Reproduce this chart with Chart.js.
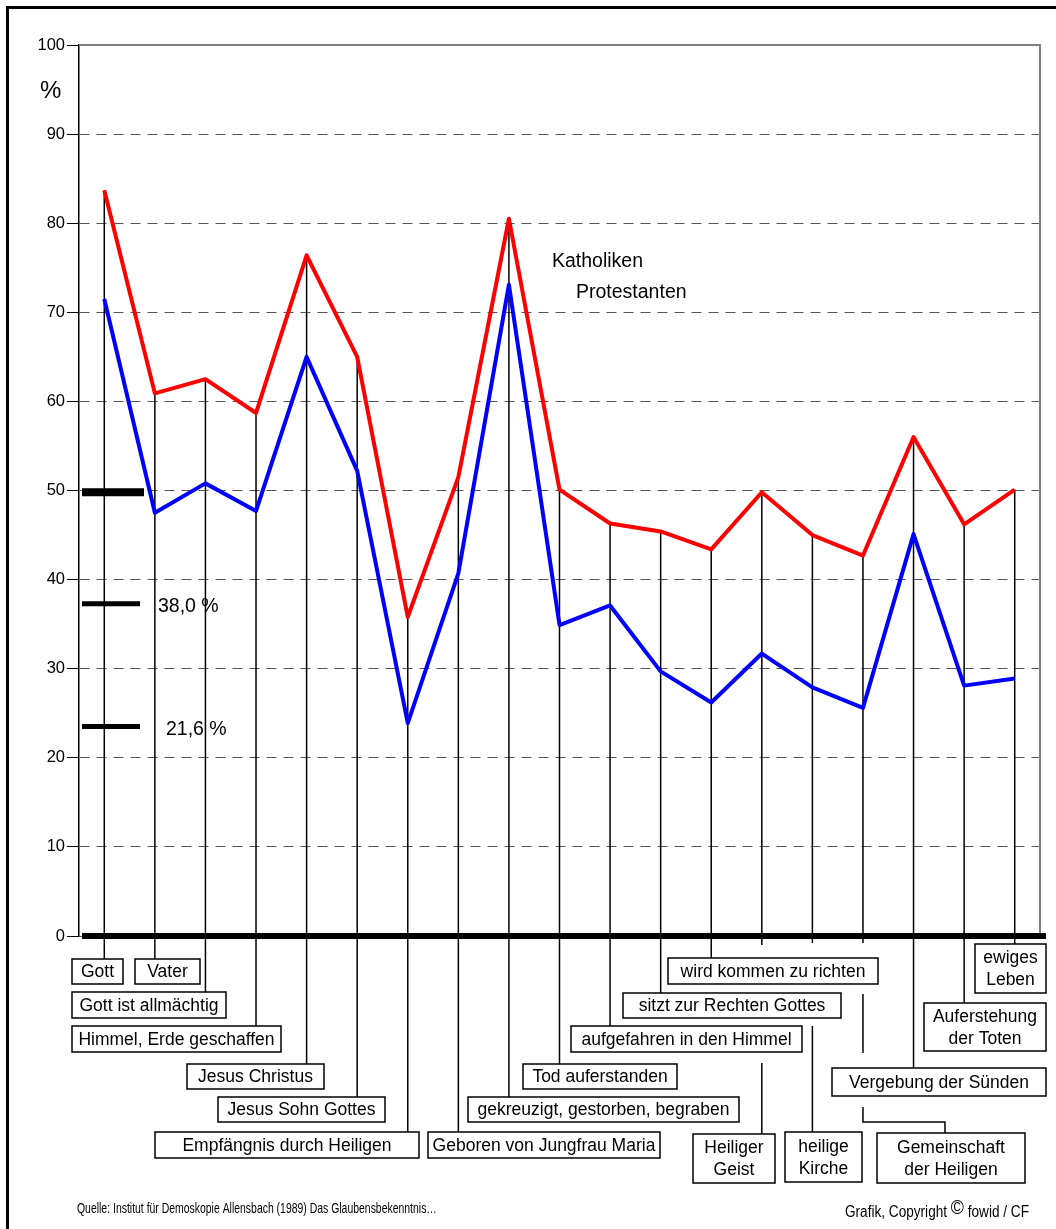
<!DOCTYPE html>
<html>
<head>
<meta charset="utf-8">
<script src="https://cdn.jsdelivr.net/npm/chart.js@4.4.1/dist/chart.umd.min.js"></script>
<style>html,body{margin:0;padding:0;background:#fff}</style>
</head>
<body>
<canvas id="myChart" width="1056" height="1229"></canvas>
<script>
// Glaubensbekenntnis: Zustimmung in % (Katholiken / Protestanten)
var categories = [
  'Gott', 'Vater', 'Gott ist allmächtig', 'Himmel, Erde geschaffen', 'Jesus Christus',
  'Jesus Sohn Gottes', 'Empfängnis durch Heiligen', 'Geboren von Jungfrau Maria',
  'gekreuzigt, gestorben, begraben', 'Tod auferstanden', 'aufgefahren in den Himmel',
  'sitzt zur Rechten Gottes', 'wird kommen zu richten', ['Heiliger', 'Geist'],
  ['heilige', 'Kirche'], ['Gemeinschaft', 'der Heiligen'], 'Vergebung der Sünden',
  ['Auferstehung', 'der Toten'], ['ewiges', 'Leben']
];
var katholiken   = [83.7, 60.9, 62.5, 58.7, 76.4, 65.0, 35.8, 51.5, 80.5, 50.1, 46.3, 45.4, 43.4, 49.8, 45.0, 42.7, 56.0, 46.2, 50.1];
var protestanten = [71.5, 47.5, 50.8, 47.7, 65.0, 52.2, 23.9, 40.7, 73.1, 34.9, 37.1, 29.7, 26.2, 31.7, 27.9, 25.6, 45.1, 28.1, 28.9];
var yTicks = [0, 10, 20, 30, 40, 50, 60, 70, 80, 90, 100];

// Markierungen links (Durchschnittswerte)
var markerValues = [49.8, 37.3, 23.5];
var markerLabels = ['', '38,0 %', '21,6 %'];

// Lage der Beschriftungskästen unter der Achse (Pixel)
var boxLayout = [
  {x: 72,  y: 959,  w: 51,  h: 25},
  {x: 135, y: 959,  w: 65,  h: 25},
  {x: 72,  y: 992,  w: 154, h: 26},
  {x: 72,  y: 1026, w: 209, h: 26},
  {x: 187, y: 1064, w: 137, h: 25},
  {x: 218, y: 1097, w: 167, h: 25},
  {x: 155, y: 1132, w: 264, h: 26},
  {x: 428, y: 1132, w: 232, h: 26},
  {x: 468, y: 1097, w: 271, h: 25},
  {x: 523, y: 1064, w: 154, h: 25},
  {x: 571, y: 1026, w: 231, h: 26},
  {x: 623, y: 993,  w: 218, h: 25},
  {x: 668, y: 958,  w: 210, h: 26},
  {x: 693, y: 1134, w: 82,  h: 49},
  {x: 785, y: 1132, w: 77,  h: 50},
  {x: 877, y: 1133, w: 148, h: 50},
  {x: 832, y: 1068, w: 214, h: 28},
  {x: 924, y: 1003, w: 122, h: 48},
  {x: 975, y: 944,  w: 71,  h: 49}
];
// Verbindungslinien, die nicht gerade bis zum Kasten gehen (x relativ zur Kategorie)
var connectorOverrides = {
  13: [[[0, 'axis'], [0, 945]], [[0, 1063], [0, 1134]]],
  14: [[[0, 'axis'], [0, 943]], [[0, 1026], [0, 1132]]],
  15: [[[0, 'axis'], [0, 943]], [[0, 994], [0, 1053]], [[0, 1107], [0, 1122], [82, 1122], [82, 1133]]]
};

var FONT = "'Liberation Sans', Arial, sans-serif";

// schmale Schrift durch horizontale Stauchung
function narrowText(ctx, text, x, y, size, sx) {
  ctx.save();
  ctx.font = size + 'px ' + FONT;
  ctx.translate(x, y);
  ctx.scale(sx, 1);
  ctx.fillText(text, 0, 0);
  var w = ctx.measureText(text).width * sx;
  ctx.restore();
  return w;
}

var glaubePlugin = {
  id: 'glaube',
  beforeDatasetsDraw: function(chart) {
    var ctx = chart.ctx, xs = chart.scales.x, ys = chart.scales.y, a = chart.chartArea;
    ctx.save();
    // grauer Rahmen oben/rechts
    ctx.strokeStyle = '#808080';
    ctx.lineWidth = 2;
    ctx.beginPath();
    ctx.moveTo(a.left, ys.getPixelForValue(100));
    ctx.lineTo(a.right, ys.getPixelForValue(100));
    ctx.lineTo(a.right, ys.getPixelForValue(0));
    ctx.stroke();
    // senkrechte Linien vom Wert bis zur Achse
    ctx.strokeStyle = '#000';
    ctx.lineWidth = 1.5;
    for (var i = 0; i < categories.length; i++) {
      var px = xs.getPixelForValue(i);
      ctx.beginPath();
      ctx.moveTo(px, ys.getPixelForValue(Math.max(katholiken[i], protestanten[i])));
      ctx.lineTo(px, ys.getPixelForValue(0));
      ctx.stroke();
    }
    ctx.restore();
  },
  afterDatasetsDraw: function(chart) {
    var ctx = chart.ctx, ys = chart.scales.y, a = chart.chartArea;
    ctx.save();
    // dicke Nulllinie
    ctx.strokeStyle = '#000';
    ctx.lineWidth = 6;
    ctx.beginPath();
    ctx.moveTo(a.left + 3, ys.getPixelForValue(0));
    ctx.lineTo(a.right + 6, ys.getPixelForValue(0));
    ctx.stroke();
    // Markierungen
    markerValues.forEach(function(v, i) {
      var py = ys.getPixelForValue(v);
      ctx.lineWidth = i === 0 ? 8 : 5;
      ctx.beginPath();
      ctx.moveTo(a.left + 3, py);
      ctx.lineTo(a.left + (i === 0 ? 65 : 61), py);
      ctx.stroke();
      if (markerLabels[i]) {
        ctx.fillStyle = '#000';
        ctx.font = '19.5px ' + FONT;
        ctx.textBaseline = 'alphabetic';
        ctx.fillText(markerLabels[i], i === 1 ? 158 : 166, py + 8);
      }
    });
    ctx.restore();
  },
  afterDraw: function(chart) {
    var ctx = chart.ctx, xs = chart.scales.x, ys = chart.scales.y;
    var axisY = ys.getPixelForValue(0);
    ctx.save();
    ctx.strokeStyle = '#000';
    ctx.lineWidth = 1.5;
    // Verbindungslinien unter der Achse
    for (var i = 0; i < categories.length; i++) {
      var cx = xs.getPixelForValue(i);
      var lines = connectorOverrides[i] || [[[0, 'axis'], [0, boxLayout[i].y]]];
      lines.forEach(function(pts) {
        ctx.beginPath();
        pts.forEach(function(p, k) {
          var py = p[1] === 'axis' ? axisY : p[1];
          if (k === 0) ctx.moveTo(cx + p[0], py); else ctx.lineTo(cx + p[0], py);
        });
        ctx.stroke();
      });
    }
    // Kästen mit Beschriftung
    ctx.font = '17.5px ' + FONT;
    ctx.textAlign = 'center';
    ctx.textBaseline = 'middle';
    categories.forEach(function(label, i) {
      var b = boxLayout[i];
      ctx.fillStyle = '#fff';
      ctx.fillRect(b.x, b.y, b.w, b.h);
      ctx.strokeRect(b.x, b.y, b.w, b.h);
      ctx.fillStyle = '#000';
      var rows = Array.isArray(label) ? label : [label];
      var lh = 22;
      var top = b.y + b.h / 2 - (rows.length - 1) * lh / 2;
      rows.forEach(function(r, k) { ctx.fillText(r, b.x + b.w / 2, top + k * lh + 1); });
    });
    // Legende im Diagramm
    ctx.textAlign = 'left';
    ctx.textBaseline = 'alphabetic';
    ctx.font = '19.5px ' + FONT;
    ctx.fillText('Katholiken', 552, 267);
    ctx.fillText('Protestanten', 576, 298);
    // Prozentzeichen
    ctx.font = '24px ' + FONT;
    ctx.fillText('%', 40, 98);
    // Quelle / Copyright
    narrowText(ctx, 'Quelle: Institut für Demoskopie Allensbach (1989) Das Glaubensbekenntnis…', 77, 1213, 14.5, 0.72);
    var gx = 845;
    gx += narrowText(ctx, 'Grafik, Copyright ', gx, 1217, 16, 0.85);
    gx += narrowText(ctx, '©', gx, 1214, 21, 0.85);
    narrowText(ctx, ' fowid / CF', gx, 1217, 16, 0.85);
    // Rahmen links/oben
    ctx.lineWidth = 3;
    ctx.beginPath();
    ctx.moveTo(7.5, 1229);
    ctx.lineTo(7.5, 7.5);
    ctx.lineTo(1056, 7.5);
    ctx.stroke();
    ctx.restore();
  }
};

var myChart;
function render() {
  var canvas = document.getElementById('myChart').getContext('2d');
  myChart = new Chart(canvas, {
    type: 'line',
    data: {
      labels: categories,
      datasets: [{
        label: 'Protestanten',
        data: protestanten,
        borderColor: '#0000ff',
        borderWidth: 4,
        borderJoinStyle: 'round',
        pointRadius: 0,
        tension: 0
      }, {
        label: 'Katholiken',
        data: katholiken,
        borderColor: '#ff0000',
        borderWidth: 4,
        borderJoinStyle: 'round',
        pointRadius: 0,
        tension: 0
      }]
    },
    options: {
      responsive: false,
      animation: false,
      devicePixelRatio: 1,
      layout: {
        padding: {top: 45, right: 16, bottom: 293, left: 0}
      },
      plugins: {
        legend: {display: false},
        tooltip: {enabled: false}
      },
      scales: {
        x: {
          display: false,
          offset: true
        },
        y: {
          min: 0,
          max: 100,
          afterFit: function(scale) { scale.width = 79; },
          afterBuildTicks: function(scale) {
            scale.ticks = yTicks.map(function(v) { return {value: v}; });
          },
          ticks: {
            color: '#000',
            padding: 2,
            font: {family: "'Liberation Sans', Arial, sans-serif", size: 16.5}
          },
          grid: {
            color: function(c) { return c.tick && c.tick.value === 100 ? 'rgba(0,0,0,0)' : '#555'; },
            lineWidth: 1,
            tickLength: 12,
            tickColor: '#000',
            tickBorderDash: []
          },
          border: {
            display: true,
            color: '#000',
            width: 1.5,
            dash: [10, 7]
          }
        }
      }
    },
    plugins: [glaubePlugin]
  });
}
render();
</script>
</body>
</html>
